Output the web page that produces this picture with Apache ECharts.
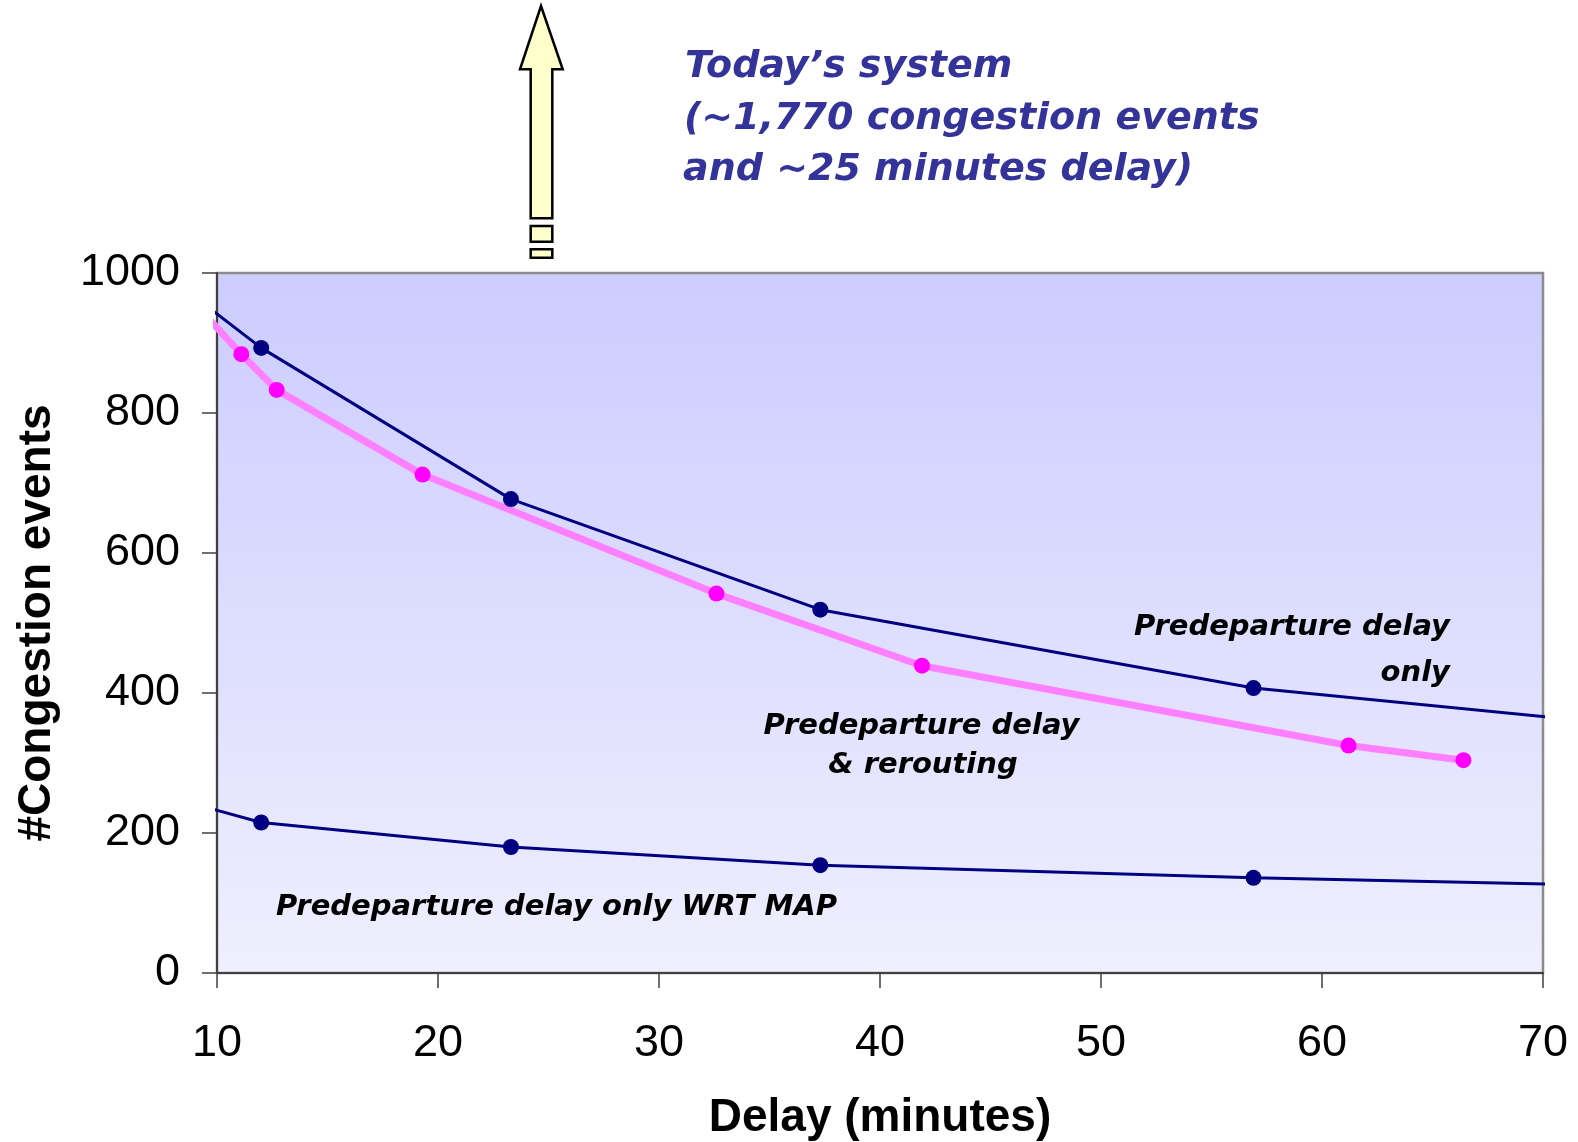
<!DOCTYPE html>
<html>
<head>
<meta charset="utf-8">
<script src="https://cdn.jsdelivr.net/npm/echarts@6/dist/echarts.min.js"></script>
<style>html,body{margin:0;padding:0;background:#fff}#c{width:1578px;height:1142px}</style>
</head>
<body>
<div id="c"></div>
<script>
// Data (delay in minutes, number of congestion events)
const xTicks = [10, 20, 30, 40, 50, 60, 70];
const yTicks = [0, 200, 400, 600, 800, 1000];

const predepOnlyDelay  = [9.7, 12.0, 23.3, 37.3, 56.9, 70.4];
const predepOnlyEvents = [949, 893, 677, 519, 407, 365];
const predepOnlyMarked = [false, true, true, true, true, false];

const rerouteDelay  = [9.7, 11.1, 12.7, 19.3, 32.6, 41.9, 61.2, 66.4];
const rerouteEvents = [932, 884, 833, 712, 542, 439, 325, 304];
const rerouteMarked = [false, true, true, true, true, true, true, true];

const mapDelay  = [9.7, 12.0, 23.3, 37.3, 56.9, 70.4];
const mapEvents = [235, 215, 180, 154, 136, 127];
const mapMarked = [false, true, true, true, true, false];

const titleLines = ["Today\u2019s system", "(~1,770 congestion events", "and ~25 minutes delay)"];

function pts(xs, ys, marked) {
  return xs.map((x, i) => marked[i] ? [x, ys[i]] : { value: [x, ys[i]], symbol: 'none' });
}

const chart = echarts.init(document.getElementById('c'), null, { renderer: 'canvas' });
const annFont = 'italic bold 29px "DejaVu Sans"';
const titleFont = 'italic bold 38px "DejaVu Sans"';

chart.setOption({
  animation: false,
  backgroundColor: '#ffffff',
  grid: {
    left: 217, right: 35, top: 273, bottom: 169,
    outerBoundsMode: 'none', containLabel: false,
    show: true,
    borderColor: '#8c8c8c', borderWidth: 2.5,
    backgroundColor: new echarts.graphic.LinearGradient(0, 0, 0, 1, [
      { offset: 0, color: '#ccccff' }, { offset: 1, color: '#efeffe' }
    ])
  },
  xAxis: {
    type: 'value', min: xTicks[0], max: xTicks[xTicks.length - 1], interval: 10,
    name: 'Delay (minutes)', nameLocation: 'middle', nameGap: 122,
    nameTextStyle: { fontFamily: 'Liberation Sans', fontWeight: 'bold', fontSize: 46, color: '#000' },
    axisLine: { show: true, lineStyle: { color: '#404040', width: 2 } },
    axisTick: { show: true, inside: false, length: 15, lineStyle: { color: '#404040', width: 1.5 } },
    axisLabel: { fontFamily: 'Liberation Sans', fontSize: 45, color: '#000', margin: 48, formatter: v => String(v) },
    splitLine: { show: false }
  },
  yAxis: {
    type: 'value', min: yTicks[0], max: yTicks[yTicks.length - 1], interval: 200,
    name: '#Congestion events', nameLocation: 'middle', nameGap: 157, nameRotate: 90,
    nameTextStyle: { fontFamily: 'Liberation Sans', fontWeight: 'bold', fontSize: 46, color: '#000' },
    axisLine: { show: true, lineStyle: { color: '#404040', width: 2 } },
    axisTick: { show: true, inside: false, length: 15, lineStyle: { color: '#404040', width: 1.5 } },
    axisLabel: { fontFamily: 'Liberation Sans', fontSize: 45, color: '#000', margin: 37, formatter: v => String(v) },
    splitLine: { show: false }
  },
  series: [
    {
      type: 'line', name: 'Predeparture delay only', clip: false, z: 3,
      data: pts(predepOnlyDelay, predepOnlyEvents, predepOnlyMarked),
      symbol: 'circle', symbolSize: 16, showSymbol: true,
      lineStyle: { color: '#000080', width: 3 },
      itemStyle: { color: '#000080' }
    },
    {
      type: 'line', name: 'Predeparture delay & rerouting', clip: false, z: 2,
      data: pts(rerouteDelay, rerouteEvents, rerouteMarked),
      symbol: 'circle', symbolSize: 16, showSymbol: true,
      lineStyle: { color: '#ff80ff', width: 7 },
      itemStyle: { color: '#ff00ff' }
    },
    {
      type: 'line', name: 'Predeparture delay only WRT MAP', clip: false, z: 3,
      data: pts(mapDelay, mapEvents, mapMarked),
      symbol: 'circle', symbolSize: 16, showSymbol: true,
      lineStyle: { color: '#000080', width: 3 },
      itemStyle: { color: '#000080' }
    }
  ],
  graphic: [
    { type: 'polygon', z: 10,
      shape: { points: [[541, 6], [562.7, 69.3], [552.3, 69.3], [552.3, 218.3], [530.7, 218.3], [530.7, 69.3], [520, 69.3]] },
      style: { fill: '#ffffcc', stroke: '#000', lineWidth: 2.5 } },
    { type: 'rect', z: 10, shape: { x: 530.7, y: 226, width: 21.6, height: 15.7 },
      style: { fill: '#ffffcc', stroke: '#000', lineWidth: 2.5 } },
    { type: 'rect', z: 10, shape: { x: 530.7, y: 249.3, width: 21.6, height: 8.4 },
      style: { fill: '#ffffcc', stroke: '#000', lineWidth: 2.5 } },
    { type: 'text', z: 10, style: { x: 685, y: 67.5, text: titleLines[0], font: titleFont, fill: '#333399', textAlign: 'left', textVerticalAlign: 'middle' } },
    { type: 'text', z: 10, style: { x: 684, y: 119.5, text: titleLines[1], font: titleFont, fill: '#333399', textAlign: 'left', textVerticalAlign: 'middle' } },
    { type: 'text', z: 10, style: { x: 683, y: 170.5, text: titleLines[2], font: titleFont, fill: '#333399', textAlign: 'left', textVerticalAlign: 'middle' } },
    { type: 'text', z: 10, style: { x: 1450, y: 627.5, text: 'Predeparture delay', font: annFont, fill: '#000', textAlign: 'right', textVerticalAlign: 'middle' } },
    { type: 'text', z: 10, style: { x: 1450, y: 673.5, text: 'only', font: annFont, fill: '#000', textAlign: 'right', textVerticalAlign: 'middle' } },
    { type: 'text', z: 10, style: { x: 921.5, y: 726, text: 'Predeparture delay', font: annFont, fill: '#000', textAlign: 'center', textVerticalAlign: 'middle' } },
    { type: 'text', z: 10, style: { x: 923, y: 765, text: '& rerouting', font: annFont, fill: '#000', textAlign: 'center', textVerticalAlign: 'middle' } },
    { type: 'text', z: 10, style: { x: 276, y: 907, text: 'Predeparture delay only WRT MAP', font: annFont, fill: '#000', textAlign: 'left', textVerticalAlign: 'middle' } }
  ]
});
</script>
</body>
</html>
